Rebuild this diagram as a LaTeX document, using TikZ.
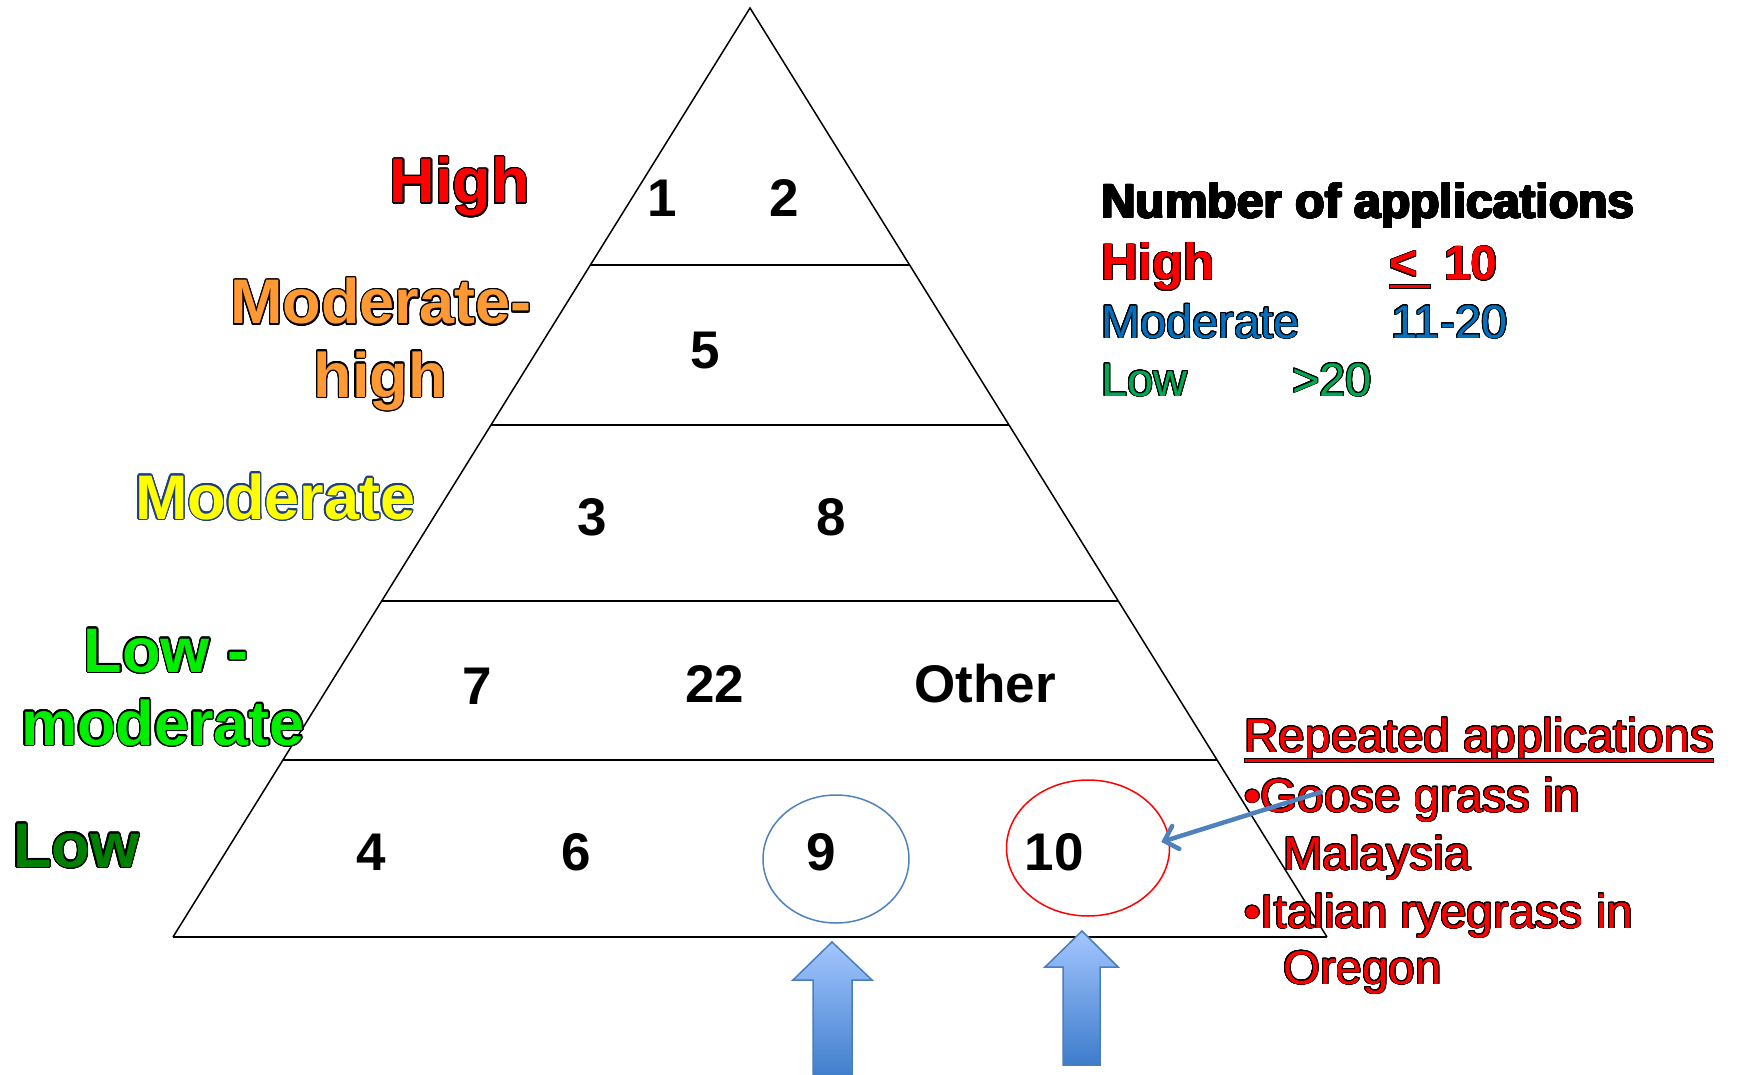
\documentclass[tikz,border=0pt]{standalone}
\usepackage{fontspec}
\setmainfont{Liberation Sans}
\usepackage{contour}
\contournumber{24}
\usetikzlibrary{calc,shapes.geometric,arrows.meta}
\definecolor{orangeL}{HTML}{FF9933}
\definecolor{yellowL}{HTML}{FFFF00}
\definecolor{navyO}{HTML}{1F3F7F}
\definecolor{limeG}{HTML}{00EE00}
\definecolor{darkG}{HTML}{008000}
\definecolor{legBlue}{HTML}{0070C0}
\definecolor{legGreen}{HTML}{00A850}
\definecolor{blueE}{HTML}{4F81BD}
\definecolor{arrTop}{HTML}{A3C6FF}
\definecolor{arrBot}{HTML}{3D7CCB}
\definecolor{arrEdge}{HTML}{4A7EBB}
\newcommand\olA[2]{\contourlength{1.3pt}\contour{#1}{#2}}
\newcommand\olB[2]{\contourlength{0.9pt}\contour{#1}{#2}}
\begin{document}
\begin{tikzpicture}[x=1pt,y=-1pt,
  biglab/.style={font=\fontsize{63}{70}\selectfont\bfseries, inner sep=0pt},
  num/.style={font=\fontsize{53}{60}\selectfont\bfseries, inner sep=0pt, anchor=base},
  leg/.style={font=\fontsize{47}{55}\selectfont, inner sep=0pt, anchor=base west},
  legb/.style={leg, font=\fontsize{48}{55}\selectfont\bfseries},
  rtext/.style={font=\fontsize{47.5}{55}\selectfont, text=red, inner sep=0pt, anchor=base west},
  ring/.style={ellipse, line width=1.5pt, inner sep=0pt},
  blockarrow/.style={top color=arrTop, bottom color=arrBot, draw=arrEdge, line width=1.5pt, line join=miter}
]
\useasboundingbox (0,0) rectangle (1738,1075);
% pyramid
\coordinate (apex) at (750,8);
\coordinate (bl) at (173,937);
\coordinate (br) at (1327,937);
\draw[line width=1.5pt, line join=miter] (bl) -- (apex) -- (br);
\draw[line width=2.2pt] (bl) -- (br);
\foreach \t in {0.2766,0.4489,0.6383,0.8095}
  \draw[line width=2pt] ($(apex)!\t!(bl)$) -- ($(apex)!\t!(br)$);
% ellipses
\node[ring, draw=blueE, minimum width=146pt, minimum height=128pt] (e9) at (836,859) {};
\node[ring, draw=red, minimum width=163pt, minimum height=136pt] (e10) at (1088,848) {};
% numbers
\node[num] (n1) at (662,217) {1};
\node[num] (n2) at (784,217) {2};
\node[num] (n5) at (705,369) {5};
\node[num] (n3) at (592,535) {3};
\node[num] (n8) at (831,535) {8};
\node[num] (n7) at (477,704) {7};
\node[num] (n22) at (715,702) {22};
\node[num] (nO) at (985,702) {Other};
\node[num] (n4) at (371,870) {4};
\node[num] (n6) at (576,870) {6};
\node[num] (n9) at (821,870) {9};
\node[num] (n10) at (1054,870) {10};
% left labels
\node[biglab, text=red, anchor=base east] (lHigh) at (530,203) {\olA{black}{High}};
\node[biglab, text=orangeL, anchor=base] (lMH1) at (381,324) {\olA{black}{Moderate-}};
\node[biglab, text=orangeL, anchor=base] (lMH2) at (380,397) {\olA{black}{high}};
\node[biglab, text=yellowL, anchor=base west] (lMod) at (135,519) {\olA{navyO}{Moderate}};
\node[biglab, text=limeG, anchor=base] (lLM1) at (166,672) {\olA{black}{Low -}};
\node[biglab, text=limeG, anchor=base] (lLM2) at (163,745) {\olA{black}{moderate}};
\node[biglab, text=darkG, anchor=base west] (lLow) at (13,867) {\olA{black}{Low}};
% legend
\node[legb, text=black] (legT) at (1101,218) {\olB{black}{Number of applications}};
\node[legb, text=red, font=\fontsize{51}{55}\selectfont\bfseries] (legH) at (1101,280) {\olB{black}{High}};
\node[legb, text=red] (legLt) at (1389,280) {\olB{black}{<}};
\node[legb, text=red] (legHv) at (1444,280) {\olB{black}{10}};
\draw[black, line width=5pt] ([yshift=-7pt]legLt.base west) -- ++(42,0);
\draw[red, line width=3pt] ([yshift=-7pt,xshift=1pt]legLt.base west) -- ++(40,0);
\node[leg, text=legBlue] (legM) at (1101,338) {\olB{black}{Moderate}};
\node[leg, text=legBlue] (legMv) at (1391,338) {\olB{black}{11-20}};
\node[leg, text=legGreen] (legL) at (1101,396) {\olB{black}{Low}};
\node[leg, text=legGreen] (legLv) at (1292,396) {\olB{black}{>20}};
% right text
\node[rtext] (rep) at (1244,752) {\olB{black}{Repeated applications}};
\draw[black, line width=5pt] ([yshift=-8pt]rep.base west) -- ([yshift=-8pt]rep.base east);
\draw[red, line width=3pt] ([yshift=-8pt,xshift=1pt]rep.base west) -- ([yshift=-8pt,xshift=-1pt]rep.base east);
\node[rtext] (r1) at (1244,812) {\olB{black}{•Goose grass in}};
\node[rtext] (r2) at (1283,870) {\olB{black}{Malaysia}};
\node[rtext] (r3) at (1244,928) {\olB{black}{•Italian ryegrass in}};
\node[rtext] (r4) at (1283,984) {\olB{black}{Oregon}};
% connector
\coordinate (gs) at (1321,792);
\draw[blueE, line width=4.5pt, line cap=round, -{Straight Barb[length=12pt,width=24pt,line cap=round]}] (gs) -- ([xshift=-9pt,yshift=6pt]e10.east);
% block arrows
\shadedraw[blockarrow] (832,942) -- (872,980) -- (852,980) -- (852,1080) -- (813,1080) -- (813,980) -- (793,980) -- cycle;
\shadedraw[blockarrow] (1082,931) -- (1118,967) -- (1100,967) -- (1100,1065) -- (1063,1065) -- (1063,967) -- (1045,967) -- cycle;
\end{tikzpicture}
\end{document}
